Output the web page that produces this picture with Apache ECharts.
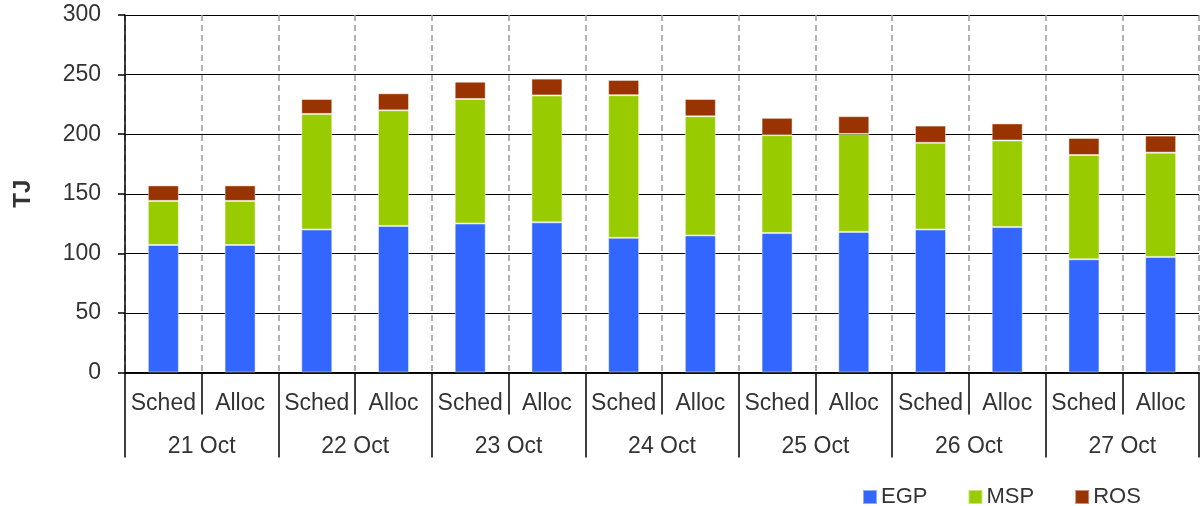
<!DOCTYPE html>
<html><head><meta charset="utf-8">
<script src="https://cdn.jsdelivr.net/npm/echarts@6/dist/echarts.min.js"></script>
<style>html,body{margin:0;padding:0;background:#fff}#c{width:1203px;height:506px}</style>
</head><body><div id="c"></div>
<script>
const categories = ['Sched','Alloc','Sched','Alloc','Sched','Alloc','Sched','Alloc','Sched','Alloc','Sched','Alloc','Sched','Alloc'];
const days = ['21 Oct','22 Oct','23 Oct','24 Oct','25 Oct','26 Oct','27 Oct'];
const egp = [107,107,120,123,125,126,113,115,117,118,120,122,95,97];
const msp = [37,37,97,97,104.5,106.5,119.7,100,82.2,82.2,72.7,72.7,87.5,87.5];
const ros = [13,13,12.5,14.3,14.5,14.1,12.8,14.5,14.5,14.9,14.5,14.3,14.3,14.3];
const yTicks = [0,50,100,150,200,250,300];

const font = 'Liberation Sans, Arial, sans-serif';
const chart = echarts.init(document.getElementById('c'));
const barStyle = c => ({color: c, borderColor: 'rgba(255,255,255,0.45)', borderWidth: 1});
chart.setOption({
  animation: false,
  grid: {left: 125, right: 4, top: 15, bottom: 133.5},
  legend: {
    left: 857, top: 481, itemWidth: 14, itemHeight: 14, itemGap: 40,
    icon: 'rect',
    textStyle: {fontFamily: font, fontSize: 22, color: '#333', padding: [0,0,0,-1]},
    data: ['EGP','MSP','ROS']
  },
  xAxis: [{
    type: 'category', data: categories, position: 'bottom',
    axisLine: {lineStyle: {color: '#000', width: 1.5}},
    axisTick: {show: true, length: 42, lineStyle: {color: '#000', width: 1.5}},
    axisLabel: {fontFamily: font, fontSize: 23, color: '#333', margin: 20, interval: 0},
    splitLine: {show: true, lineStyle: {color: '#999', type: [6,4], width: 1.5}}
  },{
    type: 'category', data: days, position: 'bottom', gridIndex: 0,
    axisLine: {lineStyle: {color: '#000', width: 1.5}},
    axisTick: {show: true, length: 85, lineStyle: {color: '#000', width: 1.5}},
    axisLabel: {fontFamily: font, fontSize: 23, color: '#333', margin: 63, interval: 0},
    splitLine: {show: false}
  }],
  yAxis: {
    type: 'value', min: yTicks[0], max: yTicks[yTicks.length-1], interval: 50,
    name: 'TJ', nameLocation: 'middle', nameGap: 90, nameRotate: 90,
    nameTextStyle: {fontFamily: font, fontSize: 24, fontWeight: 'bold', color: '#333'},
    axisLine: {show: true, lineStyle: {color: '#000', width: 1.5}},
    axisTick: {show: true, length: 7, lineStyle: {color: '#000', width: 1.5}},
    axisLabel: {fontFamily: font, fontSize: 23, color: '#333', margin: 24},
    splitLine: {show: true, lineStyle: {color: '#000', width: 1.2}}
  },
  series: [
    {name: 'EGP', type: 'bar', stack: 't', xAxisIndex: 0, data: egp, barWidth: 31, itemStyle: barStyle('#3366FF')},
    {name: 'MSP', type: 'bar', stack: 't', xAxisIndex: 0, data: msp, barWidth: 31, itemStyle: barStyle('#99CC00')},
    {name: 'ROS', type: 'bar', stack: 't', xAxisIndex: 0, data: ros, barWidth: 31, itemStyle: barStyle('#993300')}
  ]
});
</script></body></html>
